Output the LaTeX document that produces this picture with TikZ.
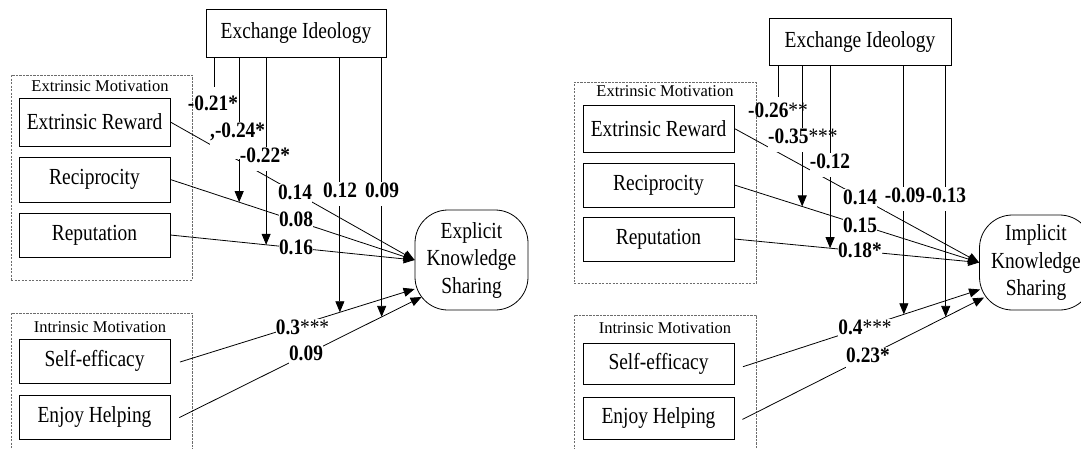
\documentclass[tikz,border=0pt]{standalone}
\usepackage{fontspec}
\setmainfont{Liberation Serif}
\newfontfamily\narrowserif[FakeStretch=0.88]{Liberation Serif}
\newfontfamily\boxserif[FakeStretch=0.845]{Liberation Serif}
\usetikzlibrary{arrows.meta,calc}
\begin{document}
\begin{tikzpicture}[x=1pt,y=-1pt,
  every node/.style={font=\boxserif\fontsize{23}{25}\selectfont},
  ln/.style={line width=0.8pt},
  arr/.style={line width=0.8pt,-{Triangle[length=11pt,width=9pt]}},
  var/.style={draw,line width=0.8pt,inner sep=0pt,minimum width=151pt},
  grp/.style={draw=gray!85!black,line width=0.8pt,dash pattern=on 2.2pt off 1.3pt,inner sep=0pt},
  grptitle/.style={font=\fontsize{16.5}{18}\selectfont,inner sep=0pt},
  outcome/.style={draw,line width=0.8pt,rounded corners=33pt,inner sep=0pt,
    minimum width=113pt,align=center,font=\boxserif\fontsize{23}{27.5}\selectfont},
  coef/.style={font=\narrowserif\fontsize{22}{24}\selectfont\bfseries,fill=white,inner sep=0pt,
    text height=15pt,text depth=9pt,anchor=base},
  coefn/.style={coef,fill=none}
]
\fill[white] (0,0) rectangle (1081,448);
\useasboundingbox (0,0) rectangle (1081,448);

% ---------------- explicit knowledge sharing model ----------------
\node[grp,minimum width=181pt,minimum height=205pt] (emL) at (101.5,177.5) {};
\node[grp,minimum width=181pt,minimum height=142pt] (imL) at (101.5,384) {};
\node[grptitle] (emLt) at (100,86) {Extrinsic Motivation};
\node[grptitle] (imLt) at (100,327) {Intrinsic Motivation};

\node[var,minimum width=180pt,minimum height=48pt] (exL) at (296,33) {Exchange Ideology};
\node[var,minimum height=48pt] (erL)  at (94.5,122)   {Extrinsic Reward};
\node[var,minimum height=45pt] (recL) at (94.5,179.5) {Reciprocity};
\node[var,minimum height=44pt] (repL) at (94.5,235)   {Reputation};
\node[var,minimum height=44pt] (seL)  at (94.5,361)   {Self-efficacy};
\node[var,minimum height=44pt] (ehL)  at (94.5,417)   {Enjoy Helping};
\node[outcome,minimum height=100pt] (eksL) at (471.5,260) {Explicit\\Knowledge\\Sharing};

\draw[arr] (erL.east) -- (eksL.west);
\draw[arr] (recL.east) -- coordinate[pos=0.2816] (mRecL) (eksL.west);
\draw[arr] (repL.east) -- coordinate[pos=0.392] (mRepL) (eksL.west);
\draw[arr,shorten <=10pt] ([yshift=-4pt]seL.east) -- coordinate[pos=0.694] (mSeL) ([yshift=-29pt]eksL.west);
\draw[arr,shorten <=10pt] ([yshift=-5pt]ehL.east) -- coordinate[pos=0.841] (mEhL) ([xshift=7pt,yshift=-37pt]eksL.west);

\coordinate (fL) at (214,87);
\draw[ln]  (fL |- exL.south) -- (fL);
\draw[arr] (mRecL |- exL.south) -- (mRecL);
\draw[arr] (mRepL |- exL.south) -- (mRepL);
\draw[arr] (mSeL |- exL.south) -- (mSeL);
\draw[arr] (mEhL |- exL.south) -- (mEhL);

\node[coefn] (cL1) at (213,110) {-0.21*};
\node[coef,anchor=base west,text depth=22pt] (cL2) at (210,137) {,-0.24*};
\node[coef] (cL3) at (265,162) {-0.22*};
\node[coef] (cL4) at (295,199) {0.14};
\node[coef] (cL5) at (340,197) {0.12};
\node[coef] (cL6) at (382,197) {0.09};
\node[coef] (cL7) at (296,226) {0.08};
\node[coef] (cL8) at (296,254) {0.16};
\node[coef] (cL9) at (302.5,334) {0.3{\mdseries***}};
\node[coef] (cL10) at (306,360) {0.09};

% ---------------- implicit knowledge sharing model ----------------
\node[grp,minimum width=182pt,minimum height=201pt] (emR) at (665,182.5) {};
\node[grp,minimum width=182pt,minimum height=140pt] (imR) at (665,385) {};
\node[grptitle] (emRt) at (665,91) {Extrinsic Motivation};
\node[grptitle] (imRt) at (665,328.5) {Intrinsic Motivation};

\node[var,minimum width=182pt,minimum height=47pt] (exR) at (860,41.5) {Exchange Ideology};
\node[var,minimum height=47pt] (erR)  at (658.5,128.5) {Extrinsic Reward};
\node[var,minimum height=44pt] (recR) at (658.5,185)   {Reciprocity};
\node[var,minimum height=44pt] (repR) at (658.5,239)   {Reputation};
\node[var,minimum height=41pt] (seR)  at (658.5,363.5) {Self-efficacy};
\node[var,minimum height=42pt] (ehR)  at (658.5,418)   {Enjoy Helping};
\node[outcome,minimum height=95pt] (iksR) at (1036,262.5) {Implicit\\Knowledge\\Sharing};

\draw[arr] (erR.east) -- (iksR.west);
\draw[arr] (recR.east) -- coordinate[pos=0.277] (mRecR) (iksR.west);
\draw[arr] (repR.east) -- coordinate[pos=0.391] (mRepR) (iksR.west);
\draw[arr,shorten <=9pt] ([yshift=-6pt]seR.east) -- coordinate[pos=0.6897] (mSeR) ([xshift=1pt,yshift=-27pt]iksR.west);
\draw[arr,shorten <=9pt] ([yshift=-5.5pt]ehR.east) -- coordinate[pos=0.8463] (mEhR) ([xshift=5pt,yshift=-35pt]iksR.west);

\coordinate (fR) at (778,97);
\draw[ln]  (fR |- exR.south) -- (fR);
\draw[arr] (mRecR |- exR.south) -- (mRecR);
\draw[arr] (mRepR |- exR.south) -- (mRepR);
\draw[arr] (mSeR |- exR.south) -- (mSeR);
\draw[arr] (mEhR |- exR.south) -- (mEhR);

\node[coefn] (cR1) at (778,117) {-0.26{\mdseries**}};
\node[coef,anchor=base west] (cR2) at (768,143) {-0.35\rlap{\mdseries***}};
\node[coef] (cR3) at (830,168) {-0.12};
\node[coef] (cR4) at (860,204) {0.14};
\node[coef] (cR5) at (905,202) {-0.09};
\node[coef] (cR6) at (946,202) {-0.13};
\node[coef] (cR7) at (860,232) {0.15};
\node[coef] (cR8) at (860,257) {0.18*};
\node[coef] (cR9) at (865,334) {0.4{\mdseries***}};
\node[coef] (cR10) at (868,362) {0.23*};
\end{tikzpicture}
\end{document}
